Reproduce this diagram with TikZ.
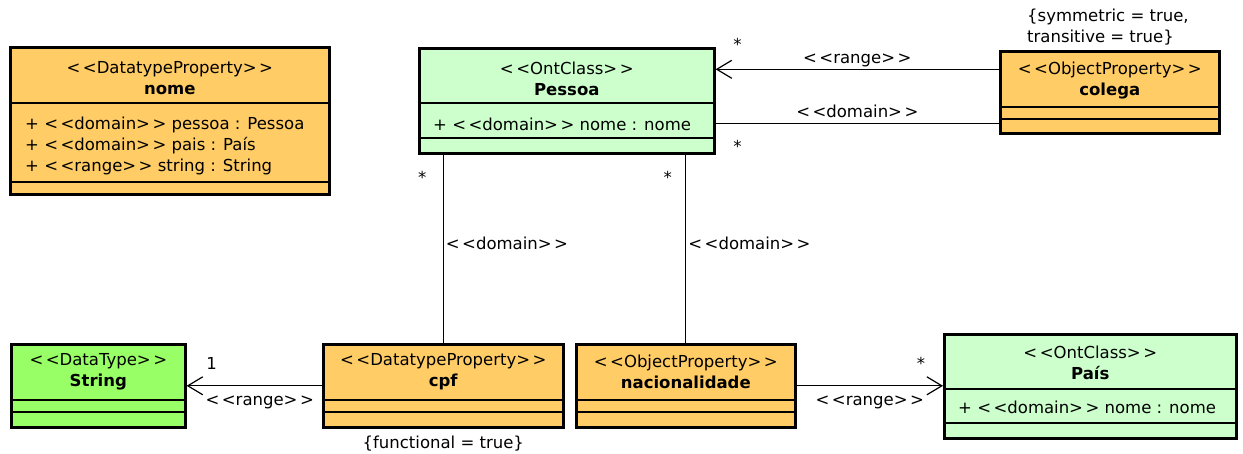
\documentclass[tikz,border=0pt]{standalone}
\usepackage{fontspec}
\setmainfont{DejaVu Sans}
\usepackage{tikz}
\usetikzlibrary{calc,positioning,arrows.meta}
\definecolor{propfill}{HTML}{FFCC66}
\definecolor{classfill}{HTML}{CCFFCC}
\definecolor{typefill}{HTML}{99FF66}
\newcommand{\stereo}[1]{<\kern2.5pt<#1>\kern2.5pt>}

\begin{document}
\begin{tikzpicture}[x=1pt,y=-1pt,font=\fontsize{16.5}{21}\selectfont]
	\tikzstyle{umlbox}=[draw,line width=2.6pt,anchor=north west,inner sep=0]
	\tikzstyle{head}=[align=center,inner sep=0]
	\tikzstyle{attr}=[align=left,anchor=west,inner sep=0]
	\tikzstyle{sep}=[line width=1.3pt]
	\tikzstyle{assoc}=[line width=1.2pt]
	\tikzstyle{rangearrow}=[assoc,-{Straight Barb[length=15pt,width=18pt]}]
	\tikzstyle{lbl}=[inner sep=2pt]
	\tikzstyle{mult}=[inner sep=0]
	\tikzstyle{note}=[inner sep=0,align=left]

	\useasboundingbox (0,0) rectangle (1243,454);

	%
	% datatype property nome
	%
	\node [umlbox,fill=propfill,minimum width=319,minimum height=147] (nome) at (9,46) {};
	\node [head] (nome-head) at ($(nome.north)+(0,32)$) {\stereo{DatatypeProperty}\\\textbf{nome}};
	\node [attr] (nome-attr) at ($(nome.north west)+(16,100)$) {+ \stereo{domain} pessoa : Pessoa\\+ \stereo{domain} pais : País\\+ \stereo{range} string : String};
	\draw [sep] ($(nome.north west)+(0,57)$) -- ($(nome.north east)+(0,57)$);
	\draw [sep] ($(nome.north west)+(0,136)$) -- ($(nome.north east)+(0,136)$);

	%
	% classes
	%
	\node [umlbox,fill=classfill,minimum width=295,minimum height=105] (pessoa) at (418,47) {};
	\node [head] (pessoa-head) at ($(pessoa.north)+(0,32)$) {\stereo{OntClass}\\\textbf{Pessoa}};
	\node [attr] (pessoa-attr) at ($(pessoa.north west)+(15,77)$) {+ \stereo{domain} nome : nome};
	\draw [sep] ($(pessoa.north west)+(0,56)$) -- ($(pessoa.north east)+(0,56)$);
	\draw [sep] ($(pessoa.north west)+(0,91)$) -- ($(pessoa.north east)+(0,91)$);

	\node [umlbox,fill=classfill,minimum width=292,minimum height=104] (pais) at (943,333) {};
	\node [head] (pais-head) at ($(pais.north)+(0,30)$) {\stereo{OntClass}\\\textbf{País}};
	\node [attr] (pais-attr) at ($(pais.north west)+(15,74)$) {+ \stereo{domain} nome : nome};
	\draw [sep] ($(pais.north west)+(0,56)$) -- ($(pais.north east)+(0,56)$);
	\draw [sep] ($(pais.north west)+(0,90)$) -- ($(pais.north east)+(0,90)$);

	\node [umlbox,fill=typefill,minimum width=174,minimum height=83] (string) at (10,343) {};
	\node [head] (string-head) at ($(string.north)+(0,29)$) {\stereo{DataType}\\\textbf{String}};
	\draw [sep] ($(string.north west)+(0,57)$) -- ($(string.north east)+(0,57)$);
	\draw [sep] ($(string.north west)+(0,69)$) -- ($(string.north east)+(0,69)$);

	%
	% properties
	%
	\node [umlbox,fill=propfill,minimum width=219,minimum height=82] (colega) at (999,50) {};
	\node [head] (colega-head) at ($(colega.north)+(0,31)$) {\stereo{ObjectProperty}\\\textbf{colega}};
	\draw [sep] ($(colega.north west)+(0,57)$) -- ($(colega.north east)+(0,57)$);
	\draw [sep] ($(colega.north west)+(0,69)$) -- ($(colega.north east)+(0,69)$);
	\node [note,anchor=west] (colega-note) at ($(colega.north west)+(28,-22.5)$) {\{symmetric = true,\\transitive = true\}};

	\node [umlbox,fill=propfill,minimum width=240,minimum height=83] (cpf) at (322,343) {};
	\node [head] (cpf-head) at ($(cpf.north)+(0,29)$) {\stereo{DatatypeProperty}\\\textbf{cpf}};
	\draw [sep] ($(cpf.north west)+(0,57)$) -- ($(cpf.north east)+(0,57)$);
	\draw [sep] ($(cpf.north west)+(0,69)$) -- ($(cpf.north east)+(0,69)$);
	\node [note,below=7pt of cpf] (cpf-note) {\{functional = true\}};

	\node [umlbox,fill=propfill,minimum width=219,minimum height=83] (nac) at (575,343) {};
	\node [head] (nac-head) at ($(nac.north)+(0,29)$) {\stereo{ObjectProperty}\\\textbf{nacionalidade}};
	\draw [sep] ($(nac.north west)+(0,57)$) -- ($(nac.north east)+(0,57)$);
	\draw [sep] ($(nac.north west)+(0,69)$) -- ($(nac.north east)+(0,69)$);

	%
	% colega links
	%
	\draw [rangearrow] ([yshift=23pt]colega.west) -- ([yshift=23pt]colega.west -| pessoa.east)
		node [midway,above,lbl] {\stereo{range}};
	\draw [assoc] ([yshift=-31pt]colega.west) -- ([yshift=-31pt]colega.west -| pessoa.east)
		node [midway,above=3pt,lbl] {\stereo{domain}};
	\node [mult] (m-range) at ($(pessoa.east)+(22,-56)$) {*};
	\node [mult] (m-domain) at ($(pessoa.east)+(22,46)$) {*};

	%
	% cpf and nacionalidade links
	%
	\draw [assoc] (cpf.north) -- (cpf.north |- pessoa.south)
		node [pos=0.53,right,lbl] {\stereo{domain}};
	\node [mult] (m-cpf) at ($(cpf.north |- pessoa.south)+(-21,23)$) {*};
	\draw [assoc] (nac.north) -- (nac.north |- pessoa.south)
		node [pos=0.53,right,lbl] {\stereo{domain}};
	\node [mult] (m-nac) at ($(nac.north |- pessoa.south)+(-18,23)$) {*};

	\draw [rangearrow] (cpf.west) -- (string.east)
		node [pos=0.46,below=8pt,lbl] {\stereo{range}};
	\node [mult] (m-string) at ($(string.east)+(25,-22)$) {1};

	\draw [rangearrow] (nac.east) -- (nac.east -| pais.west)
		node [midway,below=8pt,lbl] {\stereo{range}};
	\node [mult] (m-pais) at ($(nac.east -| pais.west)+(-22,-22)$) {*};

\end{tikzpicture}
\end{document}
